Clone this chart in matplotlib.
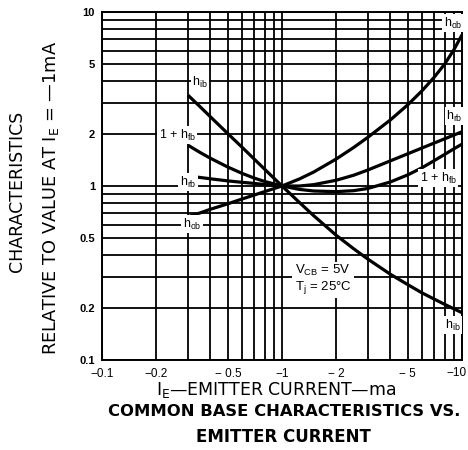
import matplotlib
matplotlib.use('Agg')
import matplotlib.pyplot as plt
from matplotlib.ticker import FixedLocator, NullFormatter

plt.rcParams['font.family'] = ['Liberation Sans', 'DejaVu Sans']
plt.rcParams['mathtext.default'] = 'regular'

# emitter current magnitude (ma)
current = [0.3, 0.35, 0.4, 0.5, 0.6, 0.7, 0.8, 1.0, 1.25, 1.5, 2, 2.5, 3, 4, 5, 6, 7, 8, 9, 10]

# characteristics relative to value at IE = -1mA
h_ib = [3.33, 2.86, 2.5, 2.0, 1.67, 1.43, 1.25, 1.0, 0.804, 0.675, 0.521, 0.436, 0.380,
        0.311, 0.271, 0.243, 0.224, 0.209, 0.197, 0.187]
one_plus_h_fb = [1.717, 1.56, 1.444, 1.285, 1.182, 1.111, 1.062, 1.0, 0.956, 0.936, 0.928,
                 0.940, 0.968, 1.055, 1.159, 1.274, 1.398, 1.518, 1.634, 1.74]
h_rb = [1.14, 1.12, 1.10, 1.07, 1.05, 1.035, 1.02, 1.0, 1.0, 1.018, 1.079, 1.153, 1.236,
        1.395, 1.532, 1.654, 1.765, 1.866, 1.961, 2.05]
h_ob = [0.667, 0.70, 0.735, 0.79, 0.842, 0.887, 0.928, 1.0, 1.098, 1.203, 1.429, 1.664, 1.905,
        2.397, 2.93, 3.528, 4.212, 5.01, 6.05, 7.39]

x_ticks = [0.1, 0.2, 0.5, 1, 2, 5, 10]
x_ticklabels = ['\u22120.1', '\u22120.2', '\u2212 0.5', '\u22121', '\u2212 2', '\u2212 5', '\u221210']
y_ticks = [0.1, 0.2, 0.5, 1, 2, 5, 10]
y_ticklabels = ['0.1', '0.2', '0.5', '1', '2', '5', '10']
x_grid = [0.3, 0.4, 0.6, 0.7, 0.8, 0.9, 3, 4, 6, 7, 8, 9]
y_grid = [0.3, 0.4, 0.6, 0.7, 0.8, 0.9, 3, 4, 6, 7, 8, 9]

fig = plt.figure(figsize=(4.68, 4.5), dpi=100)
ax = fig.add_axes([102 / 468, 1 - 360 / 450, 360 / 468, 348 / 450])
ax.set_xscale('log')
ax.set_yscale('log')
ax.set_xlim(0.1, 10)
ax.set_ylim(0.1, 10)

ax.xaxis.set_major_locator(FixedLocator(x_ticks))
ax.xaxis.set_minor_locator(FixedLocator(x_grid))
ax.yaxis.set_major_locator(FixedLocator(y_ticks))
ax.yaxis.set_minor_locator(FixedLocator(y_grid))
# the rightmost label is drawn separately so it stays inside the figure
ax.set_xticklabels(x_ticklabels[:-1] + [''])
ax.set_yticklabels(y_ticklabels)
ax.xaxis.set_minor_formatter(NullFormatter())
ax.yaxis.set_minor_formatter(NullFormatter())
ax.tick_params(which='both', length=0)
ax.tick_params(axis='x', pad=6, labelsize=8.5)
ax.tick_params(axis='y', pad=5, labelsize=8)
for lab in ax.get_yticklabels():
    lab.set_fontweight('bold')
fig.text(467 / 468, 1 - 373 / 450, x_ticklabels[-1], fontsize=8.5, ha='right', va='center')

ax.grid(which='both', color='black', lw=1.3)
for s in ax.spines.values():
    s.set_linewidth(1.4)

for series in [h_ib, one_plus_h_fb, h_rb, h_ob]:
    ax.plot(current, series, color='black', lw=2.3, solid_capstyle='butt')

box = dict(facecolor='white', edgecolor='none', pad=1)
curve_labels = [
    (0.35, 3.96, 'h$_{ib}$'),
    (0.262, 1.96, '1 + h$_{fb}$'),
    (0.30, 1.05, 'h$_{rb}$'),
    (0.316, 0.605, 'h$_{ob}$'),
    (8.9, 8.6, 'h$_{ob}$'),
    (9.1, 2.52, 'h$_{rb}$'),
    (7.4, 1.11, '1 + h$_{fb}$'),
    (8.9, 0.159, 'h$_{ib}$'),
]
for lx, ly, txt in curve_labels:
    ax.text(lx, ly, txt, fontsize=9, ha='center', va='center', bbox=box)

ax.text(1.69, 0.292, 'V$_{CB}$ = 5V\nT$_j$ = 25\u00b0C', fontsize=9.5, ha='center', va='center',
        linespacing=1.1, bbox=dict(facecolor='white', edgecolor='none', pad=2))

wide = ['DejaVu Sans']
fig.text(17 / 468, 1 - 191 / 450, 'CHARACTERISTICS', rotation=90, fontsize=12.5,
         family=wide, ha='center', va='center')
fig.text(51 / 468, 1 - 198 / 450, 'RELATIVE TO VALUE AT I$_E$ = \u20141mA', rotation=90,
         fontsize=12.8, family=wide, ha='center', va='center')

fig.text(276 / 468, 1 - 390 / 450, 'I$_E$\u2014EMITTER CURRENT\u2014ma', fontsize=12.5,
         family=wide, ha='center', va='center')
fig.text(284 / 468, 1 - 411 / 450, 'COMMON BASE CHARACTERISTICS VS.', fontsize=11.8,
         family=wide, fontweight='bold', ha='center', va='center')
fig.text(283 / 468, 1 - 437 / 450, 'EMITTER CURRENT', fontsize=12,
         family=wide, fontweight='bold', ha='center', va='center')

fig.savefig('out.png', dpi=100)
